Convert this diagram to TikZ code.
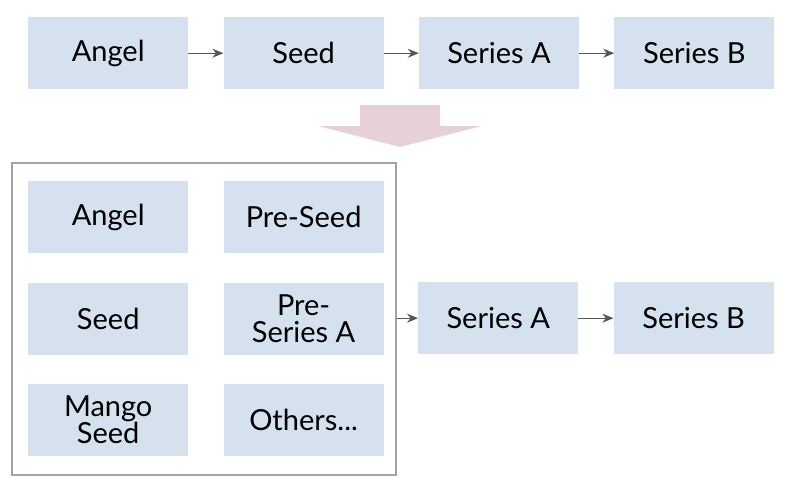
\documentclass[tikz,border=0pt]{standalone}
\usepackage{fontspec}
\setmainfont{Lato}
\usetikzlibrary{positioning,fit,calc,arrows.meta}
\definecolor{boxblue}{HTML}{D5E1EF}
\definecolor{downpink}{HTML}{E6D1DA}
\definecolor{framegray}{HTML}{A3A3A3}
\definecolor{arrgray}{HTML}{555555}
\tikzset{stage/.style={fill=boxblue, minimum width=160pt, minimum height=72pt, inner sep=0pt, align=center, font=\fontsize{29}{27}\selectfont}}
\tikzset{arr/.style={draw=arrgray, -{Stealth[length=11pt, width=9pt]}, line width=1.3pt}}
\tikzset{frame/.style={draw=framegray, line width=1.5pt, inner sep=0pt}}

\begin{document}
\begin{tikzpicture}[x=1pt, y=-1pt, node distance=35pt and 35pt]
    \useasboundingbox (0,0) rectangle (788,498);
    % top row
    \node[stage, anchor=north west] (angel) at (28,17) {Angel};
    \node[stage, right=of angel] (seed) {Seed};
    \node[stage, right=of seed] (seriesa) {Series A};
    \node[stage, right=of seriesa] (seriesb) {Series B};
    \draw[arr] (angel) -- (seed);
    \draw[arr] (seed) -- (seriesa);
    \draw[arr] (seriesa) -- (seriesb);

    % big arrow down
    \fill[downpink] (360,105) -- (440,105) -- (440,126) -- (482,126)
        -- (400,147) -- (318,126) -- (360,126) -- cycle;

    % split stages
    \node[stage, anchor=north west] (angel2) at (28,181) {Angel};
    \node[stage, right=of angel2] (preseed) {Pre-Seed};
    \node[stage, below=29pt of angel2] (seed2) {Seed};
    \node[stage, right=of seed2] (preseriesa) {Pre-\\Series A};
    \node[stage, below=29pt of seed2] (mango) {Mango\\Seed};
    \node[stage, right=of mango] (others) {Others...};
    \node[frame, fit={(12,163) (396,475)}] (group) {};

    \node[stage, anchor=north west] (seriesa2) at (418,282) {Series A};
    \node[stage, right=of seriesa2] (seriesb2) {Series B};
    \draw[arr] (group.east |- seriesa2) -- (seriesa2);
    \draw[arr] (seriesa2) -- (seriesb2);
\end{tikzpicture}
\end{document}
